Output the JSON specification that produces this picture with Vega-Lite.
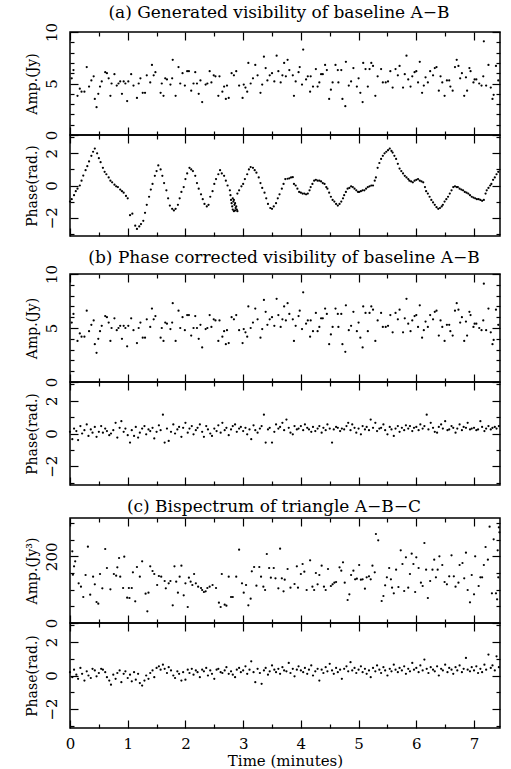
{
"$schema": "https://vega.github.io/schema/vega-lite/v6.json",
"padding": {"left": 24, "top": 3, "right": 6, "bottom": 0},
"background": "white",
"config": {
 "view": {"stroke": "black", "strokeWidth": 1.5},
 "font": "DejaVu Serif",
 "axis": {"domain": false, "grid": false, "tickColor": "black", "tickWidth": 1.2, "labelColor": "black", "titleColor": "black", "labelFont": "DejaVu Serif", "titleFont": "DejaVu Serif", "labelFontSize": 15, "titleFontSize": 14, "titleFontWeight": "normal", "labelOverlap": false, "labelFlush": false, "labelBound": false},
 "title": {"font": "DejaVu Serif", "fontSize": 17, "fontWeight": "normal", "color": "black", "anchor": "middle", "frame": "group"}
},
"datasets": {
 "amp": [
{"t":0.03,"v":5.5},{"t":0.06,"v":6.3},{"t":0.13,"v":3.8},{"t":0.17,"v":4.5},{"t":0.2,"v":4.2},{"t":0.25,"v":4.2},{"t":0.29,"v":6.6},{"t":0.33,"v":4.7},{"t":0.37,"v":5.3},{"t":0.41,"v":5.7},{"t":0.43,"v":3.5},{"t":0.46,"v":2.7},{"t":0.49,"v":4.0},{"t":0.52,"v":4.7},{"t":0.55,"v":5.2},{"t":0.61,"v":6.1},{"t":0.64,"v":6.0},{"t":0.67,"v":5.5},{"t":0.7,"v":3.8},{"t":0.72,"v":5.0},{"t":0.77,"v":5.9},{"t":0.81,"v":4.8},{"t":0.84,"v":5.0},{"t":0.87,"v":5.2},{"t":0.9,"v":4.0},{"t":0.93,"v":5.2},{"t":0.96,"v":5.0},{"t":0.99,"v":3.3},{"t":1.01,"v":5.2},{"t":1.06,"v":5.9},{"t":1.1,"v":4.8},{"t":1.16,"v":3.6},{"t":1.19,"v":5.0},{"t":1.22,"v":5.5},{"t":1.26,"v":4.1},{"t":1.3,"v":4.1},{"t":1.33,"v":5.8},{"t":1.39,"v":5.1},{"t":1.42,"v":6.8},{"t":1.45,"v":5.8},{"t":1.48,"v":6.1},{"t":1.57,"v":4.1},{"t":1.59,"v":5.0},{"t":1.62,"v":3.8},{"t":1.65,"v":5.5},{"t":1.68,"v":5.4},{"t":1.74,"v":4.9},{"t":1.77,"v":5.5},{"t":1.78,"v":7.3},{"t":1.83,"v":3.8},{"t":1.88,"v":6.6},{"t":1.91,"v":5.0},{"t":1.95,"v":6.0},{"t":1.99,"v":4.8},{"t":2.03,"v":6.2},{"t":2.06,"v":6.2},{"t":2.1,"v":4.3},{"t":2.14,"v":5.0},{"t":2.17,"v":6.1},{"t":2.2,"v":5.0},{"t":2.23,"v":4.0},{"t":2.26,"v":5.3},{"t":2.29,"v":3.2},{"t":2.35,"v":4.9},{"t":2.38,"v":5.0},{"t":2.42,"v":6.2},{"t":2.45,"v":5.1},{"t":2.49,"v":5.8},{"t":2.52,"v":5.7},{"t":2.57,"v":3.8},{"t":2.59,"v":5.7},{"t":2.64,"v":4.2},{"t":2.67,"v":4.7},{"t":2.7,"v":3.5},{"t":2.72,"v":4.8},{"t":2.75,"v":3.6},{"t":2.8,"v":6.0},{"t":2.84,"v":5.8},{"t":2.88,"v":6.2},{"t":2.93,"v":4.8},{"t":2.99,"v":3.6},{"t":3.01,"v":4.9},{"t":3.04,"v":4.6},{"t":3.07,"v":4.2},{"t":3.09,"v":7.0},{"t":3.13,"v":5.0},{"t":3.17,"v":5.5},{"t":3.21,"v":6.8},{"t":3.25,"v":5.8},{"t":3.3,"v":4.1},{"t":3.33,"v":4.9},{"t":3.36,"v":7.6},{"t":3.39,"v":6.5},{"t":3.42,"v":5.3},{"t":3.46,"v":5.8},{"t":3.5,"v":6.0},{"t":3.54,"v":5.2},{"t":3.58,"v":7.7},{"t":3.61,"v":6.2},{"t":3.65,"v":5.1},{"t":3.68,"v":5.8},{"t":3.71,"v":7.0},{"t":3.74,"v":5.7},{"t":3.77,"v":7.3},{"t":3.8,"v":6.3},
{"t":3.86,"v":5.8},{"t":3.88,"v":3.8},{"t":3.91,"v":5.2},{"t":3.96,"v":6.1},{"t":3.98,"v":6.6},{"t":4.02,"v":4.9},{"t":4.04,"v":8.3},{"t":4.09,"v":5.4},{"t":4.12,"v":5.7},{"t":4.16,"v":4.2},{"t":4.17,"v":5.7},{"t":4.21,"v":4.7},{"t":4.26,"v":6.4},{"t":4.29,"v":4.7},{"t":4.32,"v":5.1},{"t":4.35,"v":5.9},{"t":4.38,"v":5.9},{"t":4.42,"v":6.8},{"t":4.45,"v":6.3},{"t":4.49,"v":3.5},{"t":4.52,"v":4.4},{"t":4.55,"v":5.1},{"t":4.6,"v":6.8},{"t":4.64,"v":6.3},{"t":4.65,"v":5.1},{"t":4.7,"v":6.3},{"t":4.72,"v":3.5},{"t":4.77,"v":2.8},{"t":4.78,"v":7.1},{"t":4.83,"v":4.8},{"t":4.87,"v":5.2},{"t":4.91,"v":6.5},{"t":4.97,"v":4.7},{"t":5.0,"v":5.5},{"t":5.03,"v":4.1},{"t":5.07,"v":3.2},{"t":5.08,"v":7.0},{"t":5.12,"v":6.4},{"t":5.16,"v":4.7},{"t":5.19,"v":6.4},{"t":5.22,"v":7.0},{"t":5.25,"v":6.7},{"t":5.29,"v":3.8},{"t":5.33,"v":5.7},{"t":5.39,"v":6.4},{"t":5.42,"v":5.1},{"t":5.47,"v":5.1},{"t":5.51,"v":5.2},{"t":5.55,"v":6.2},{"t":5.59,"v":4.6},{"t":5.64,"v":6.4},{"t":5.68,"v":5.8},{"t":5.71,"v":6.7},{"t":5.77,"v":4.6},{"t":5.8,"v":5.9},{"t":5.83,"v":7.7},{"t":5.86,"v":5.4},{"t":5.9,"v":4.7},{"t":5.93,"v":5.7},{"t":5.97,"v":6.1},{"t":6.0,"v":6.2},{"t":6.03,"v":5.1},{"t":6.06,"v":7.1},{"t":6.1,"v":4.1},{"t":6.13,"v":4.8},{"t":6.16,"v":5.6},{"t":6.2,"v":5.1},{"t":6.24,"v":6.2},{"t":6.29,"v":5.8},{"t":6.32,"v":6.5},{"t":6.35,"v":6.6},{"t":6.39,"v":4.3},{"t":6.42,"v":5.7},{"t":6.45,"v":5.1},{"t":6.49,"v":3.8},{"t":6.53,"v":5.3},{"t":6.57,"v":5.3},{"t":6.59,"v":4.7},{"t":6.63,"v":4.3},{"t":6.67,"v":6.6},{"t":6.7,"v":7.3},{"t":6.73,"v":6.7},{"t":6.76,"v":5.5},{"t":6.79,"v":6.0},{"t":6.83,"v":3.8},{"t":6.86,"v":5.6},{"t":6.88,"v":4.3},{"t":6.92,"v":6.5},{"t":6.94,"v":6.2},{"t":6.99,"v":5.1},{"t":7.01,"v":5.4},{"t":7.04,"v":5.4},{"t":7.09,"v":5.0},{"t":7.13,"v":4.8},{"t":7.16,"v":5.7},{"t":7.17,"v":9.1},{"t":7.21,"v":4.8},{"t":7.25,"v":6.8},{"t":7.29,"v":4.6},{"t":7.32,"v":3.5},{"t":7.34,"v":3.9},{"t":7.38,"v":6.7},{"t":7.42,"v":5.3}
 ],
 "phaseA": [
{"t":0.0,"v":-1.0},{"t":0.03,"v":-0.85},{"t":0.07,"v":-0.6},{"t":0.1,"v":-0.35},{"t":0.13,"v":-0.2},{"t":0.17,"v":0.0},{"t":0.2,"v":0.3},{"t":0.23,"v":0.62},{"t":0.27,"v":0.95},{"t":0.3,"v":1.2},{"t":0.33,"v":1.5},{"t":0.37,"v":1.85},{"t":0.4,"v":2.1},{"t":0.43,"v":2.3},{"t":0.47,"v":2.0},{"t":0.5,"v":1.7},{"t":0.53,"v":1.45},{"t":0.57,"v":1.1},{"t":0.6,"v":0.85},{"t":0.63,"v":0.7},{"t":0.67,"v":0.5},{"t":0.7,"v":0.3},{"t":0.73,"v":0.2},{"t":0.77,"v":0.05},{"t":0.8,"v":-0.05},{"t":0.83,"v":-0.1},{"t":0.87,"v":-0.25},{"t":0.9,"v":-0.35},{"t":0.93,"v":-0.45},{"t":0.97,"v":-0.65},{"t":1.0,"v":-0.8},{"t":1.04,"v":-1.85},{"t":1.08,"v":-1.75},{"t":1.13,"v":-2.5},{"t":1.16,"v":-2.7},{"t":1.2,"v":-2.55},{"t":1.23,"v":-2.4},{"t":1.27,"v":-2.2},{"t":1.3,"v":-1.7},{"t":1.33,"v":-1.2},{"t":1.37,"v":-0.7},{"t":1.4,"v":-0.25},{"t":1.43,"v":0.1},{"t":1.47,"v":0.6},{"t":1.5,"v":0.9},{"t":1.53,"v":1.25},{"t":1.57,"v":1.0},{"t":1.6,"v":0.6},{"t":1.63,"v":0.15},{"t":1.67,"v":-0.3},{"t":1.7,"v":-0.8},{"t":1.73,"v":-1.25},{"t":1.77,"v":-1.45},{"t":1.8,"v":-1.55},{"t":1.83,"v":-1.45},{"t":1.87,"v":-1.2},{"t":1.9,"v":-0.8},{"t":1.93,"v":-0.4},{"t":1.97,"v":-0.1},{"t":2.0,"v":0.4},{"t":2.03,"v":0.75},{"t":2.07,"v":1.1},{"t":2.1,"v":1.0},{"t":2.13,"v":0.9},{"t":2.17,"v":0.6},{"t":2.2,"v":0.15},{"t":2.23,"v":-0.2},{"t":2.27,"v":-0.55},{"t":2.3,"v":-0.85},{"t":2.33,"v":-1.15},{"t":2.37,"v":-1.3},{"t":2.4,"v":-1.2},{"t":2.43,"v":-0.7},{"t":2.47,"v":-0.35},{"t":2.5,"v":0.1},{"t":2.53,"v":0.4},{"t":2.57,"v":0.7},{"t":2.6,"v":0.95},{"t":2.63,"v":0.75},{"t":2.67,"v":0.6},{"t":2.7,"v":0.3},{"t":2.73,"v":0.0},{"t":2.77,"v":-0.3},
{"t":2.78,"v":-0.6},{"t":2.79,"v":-0.9},{"t":2.8,"v":-1.1},{"t":2.81,"v":-1.3},{"t":2.82,"v":-1.5},{"t":2.84,"v":-1.6},{"t":2.86,"v":-1.55},{"t":2.87,"v":-1.4},{"t":2.85,"v":-1.2},{"t":2.83,"v":-1.0},{"t":2.82,"v":-0.8},{"t":2.84,"v":-0.9},{"t":2.86,"v":-1.1},{"t":2.88,"v":-1.3},{"t":2.89,"v":-1.5},{"t":2.9,"v":-1.6},
{"t":2.9,"v":-0.5},{"t":2.93,"v":-0.3},{"t":2.97,"v":-0.05},{"t":3.0,"v":0.1},{"t":3.03,"v":0.4},{"t":3.07,"v":0.7},{"t":3.1,"v":1.0},{"t":3.13,"v":1.15},{"t":3.17,"v":1.1},{"t":3.2,"v":0.95},{"t":3.23,"v":0.8},{"t":3.27,"v":0.5},{"t":3.3,"v":0.15},{"t":3.33,"v":-0.15},{"t":3.37,"v":-0.45},{"t":3.4,"v":-0.8},{"t":3.43,"v":-1.15},{"t":3.47,"v":-1.4},{"t":3.5,"v":-1.45},{"t":3.53,"v":-1.3},{"t":3.57,"v":-1.1},{"t":3.6,"v":-0.8},{"t":3.63,"v":-0.55},{"t":3.67,"v":-0.2},{"t":3.7,"v":0.1},{"t":3.73,"v":0.4},
{"t":3.77,"v":0.42},{"t":3.8,"v":0.45},{"t":3.83,"v":0.5},{"t":3.86,"v":0.52},{"t":3.88,"v":0.1},{"t":3.91,"v":0.0},{"t":3.94,"v":-0.2},{"t":3.97,"v":-0.4},{"t":4.0,"v":-0.45},{"t":4.03,"v":-0.5},{"t":4.06,"v":-0.5},{"t":4.09,"v":-0.55},{"t":4.12,"v":-0.5},{"t":4.15,"v":-0.3},{"t":4.17,"v":-0.1},{"t":4.2,"v":0.1},{"t":4.23,"v":0.3},{"t":4.26,"v":0.35},{"t":4.29,"v":0.3},{"t":4.32,"v":0.3},{"t":4.35,"v":0.25},{"t":4.38,"v":0.15},{"t":4.41,"v":0.1},{"t":4.44,"v":-0.1},{"t":4.46,"v":-0.2},{"t":4.49,"v":-0.45},{"t":4.52,"v":-0.7},{"t":4.55,"v":-0.9},{"t":4.58,"v":-1.0},{"t":4.61,"v":-1.15},{"t":4.64,"v":-1.25},{"t":4.67,"v":-1.15},{"t":4.7,"v":-1.0},{"t":4.73,"v":-0.8},{"t":4.75,"v":-0.6},{"t":4.78,"v":-0.4},{"t":4.81,"v":-0.2},{"t":4.84,"v":-0.15},{"t":4.87,"v":-0.05},{"t":4.9,"v":-0.1},{"t":4.93,"v":-0.2},{"t":4.96,"v":-0.3},{"t":4.99,"v":-0.4},{"t":5.01,"v":-0.4},{"t":5.04,"v":-0.35},{"t":5.07,"v":-0.3},{"t":5.1,"v":-0.3},{"t":5.13,"v":-0.2},{"t":5.16,"v":-0.1},{"t":5.19,"v":-0.05},{"t":5.22,"v":0.0},{"t":5.25,"v":0.0},{"t":5.28,"v":0.3},{"t":5.3,"v":0.5},{"t":5.33,"v":1.1},{"t":5.36,"v":1.4},{"t":5.39,"v":1.65},{"t":5.42,"v":1.85},{"t":5.45,"v":2.0},{"t":5.48,"v":2.1},{"t":5.51,"v":2.2},{"t":5.54,"v":2.3},{"t":5.57,"v":2.15},{"t":5.59,"v":2.05},{"t":5.62,"v":1.85},{"t":5.65,"v":1.65},{"t":5.68,"v":1.35},{"t":5.71,"v":1.05},{"t":5.74,"v":0.9},{"t":5.77,"v":0.75},{"t":5.8,"v":0.6},{"t":5.83,"v":0.5},{"t":5.86,"v":0.4},{"t":5.88,"v":0.3},{"t":5.91,"v":0.25},{"t":5.94,"v":0.2},{"t":5.97,"v":0.3},{"t":6.0,"v":0.35},{"t":6.03,"v":0.4},{"t":6.06,"v":0.3},{"t":6.09,"v":0.25},{"t":6.12,"v":0.2},{"t":6.15,"v":-0.1},{"t":6.17,"v":-0.35},{"t":6.2,"v":-0.5},{"t":6.23,"v":-0.7},{"t":6.26,"v":-0.9},{"t":6.29,"v":-1.05},{"t":6.32,"v":-1.2},{"t":6.35,"v":-1.35},{"t":6.38,"v":-1.45},{"t":6.41,"v":-1.4},{"t":6.44,"v":-1.3},{"t":6.46,"v":-1.2},{"t":6.49,"v":-1.0},{"t":6.52,"v":-0.85},{"t":6.55,"v":-0.7},{"t":6.58,"v":-0.5},{"t":6.61,"v":-0.3},{"t":6.64,"v":-0.1},{"t":6.67,"v":-0.05},{"t":6.7,"v":-0.1},{"t":6.72,"v":-0.1},{"t":6.75,"v":-0.2},{"t":6.78,"v":-0.25},{"t":6.81,"v":-0.3},{"t":6.84,"v":-0.4},{"t":6.87,"v":-0.45},{"t":6.9,"v":-0.5},{"t":6.93,"v":-0.6},{"t":6.96,"v":-0.7},{"t":6.99,"v":-0.75},{"t":7.02,"v":-0.8},{"t":7.05,"v":-0.85},{"t":7.08,"v":-0.85},{"t":7.11,"v":-0.9},{"t":7.14,"v":-0.95},{"t":7.17,"v":-0.9},{"t":7.2,"v":-0.5},{"t":7.22,"v":-0.3},{"t":7.25,"v":-0.15},{"t":7.28,"v":0.0},{"t":7.3,"v":0.1},{"t":7.33,"v":0.35},{"t":7.36,"v":0.5},{"t":7.39,"v":0.7},{"t":7.42,"v":0.85}
 ],
 "phaseB": [
{"t":0,"v":0.1},{"t":0.04,"v":-0.35},{"t":0.07,"v":0.3},{"t":0.11,"v":0.15},{"t":0.14,"v":-0.4},{"t":0.18,"v":0.45},{"t":0.21,"v":0.0},{"t":0.25,"v":0.2},{"t":0.29,"v":0.55},{"t":0.32,"v":-0.15},{"t":0.36,"v":0.25},{"t":0.39,"v":0.05},{"t":0.43,"v":0.4},{"t":0.46,"v":-0.2},{"t":0.5,"v":0.1},{"t":0.54,"v":0.45},{"t":0.57,"v":0.05},{"t":0.61,"v":0.3},{"t":0.64,"v":0.15},{"t":0.68,"v":-0.1},{"t":0.71,"v":0.0},{"t":0.75,"v":0.2},{"t":0.79,"v":0.65},{"t":0.82,"v":-0.25},{"t":0.86,"v":0.35},{"t":0.89,"v":0.75},{"t":0.93,"v":0.1},{"t":0.96,"v":0.3},
{"t":1.0,"v":-0.1},{"t":1.04,"v":-0.55},{"t":1.07,"v":0.2},{"t":1.11,"v":-0.15},{"t":1.14,"v":0.4},{"t":1.18,"v":-0.25},{"t":1.21,"v":0.05},{"t":1.25,"v":0.3},{"t":1.29,"v":0.45},{"t":1.32,"v":-0.05},{"t":1.36,"v":0.25},{"t":1.39,"v":0.15},{"t":1.43,"v":0.35},{"t":1.46,"v":-0.3},{"t":1.5,"v":0.1},{"t":1.54,"v":0.5},{"t":1.57,"v":0.2},{"t":1.61,"v":1.15},{"t":1.64,"v":-0.55},{"t":1.68,"v":0.3},{"t":1.71,"v":-0.45},{"t":1.75,"v":0.1},{"t":1.79,"v":0.55},{"t":1.82,"v":0.0},{"t":1.86,"v":0.25},{"t":1.89,"v":0.4},{"t":1.93,"v":-0.2},{"t":1.96,"v":0.35},
{"t":2.0,"v":0.65},{"t":2.04,"v":0.05},{"t":2.07,"v":0.3},{"t":2.11,"v":0.45},{"t":2.14,"v":-0.05},{"t":2.18,"v":0.2},{"t":2.21,"v":0.35},{"t":2.25,"v":0.55},{"t":2.29,"v":0.1},{"t":2.32,"v":-0.2},{"t":2.36,"v":0.45},{"t":2.39,"v":0.25},{"t":2.43,"v":0.0},{"t":2.46,"v":-0.15},{"t":2.5,"v":0.3},{"t":2.54,"v":0.15},{"t":2.57,"v":0.5},{"t":2.61,"v":0.05},{"t":2.64,"v":0.65},{"t":2.68,"v":0.2},{"t":2.71,"v":0.35},{"t":2.75,"v":-0.1},{"t":2.79,"v":0.25},{"t":2.82,"v":0.45},{"t":2.86,"v":0.55},{"t":2.89,"v":0.1},{"t":2.93,"v":0.3},{"t":2.96,"v":0.4},
{"t":3.0,"v":0.15},{"t":3.04,"v":0.35},{"t":3.07,"v":-0.05},{"t":3.11,"v":0.25},{"t":3.14,"v":-0.35},{"t":3.18,"v":0.5},{"t":3.21,"v":0.2},{"t":3.25,"v":0.05},{"t":3.29,"v":0.3},{"t":3.32,"v":0.45},{"t":3.36,"v":1.15},{"t":3.39,"v":-0.55},{"t":3.43,"v":0.25},{"t":3.46,"v":0.35},{"t":3.5,"v":-0.55},{"t":3.54,"v":0.1},{"t":3.57,"v":0.55},{"t":3.61,"v":0.3},{"t":3.64,"v":0.4},{"t":3.68,"v":0.65},{"t":3.71,"v":0.2},{"t":3.75,"v":0.85},{"t":3.79,"v":0.35},{"t":3.82,"v":0.05},{"t":3.86,"v":-0.05},{"t":3.89,"v":0.45},{"t":3.93,"v":0.25},{"t":3.96,"v":0.3},
{"t":4.0,"v":0.45},{"t":4.04,"v":0.2},{"t":4.07,"v":0.55},{"t":4.11,"v":0.35},{"t":4.14,"v":0.25},{"t":4.18,"v":0.1},{"t":4.21,"v":0.4},{"t":4.25,"v":0.15},{"t":4.29,"v":0.3},{"t":4.32,"v":0.45},{"t":4.36,"v":0.05},{"t":4.39,"v":0.35},{"t":4.43,"v":0.2},{"t":4.46,"v":0.55},{"t":4.5,"v":0.3},{"t":4.54,"v":-0.55},{"t":4.57,"v":0.25},{"t":4.61,"v":0.4},{"t":4.64,"v":0.35},{"t":4.68,"v":0.15},{"t":4.71,"v":0.3},{"t":4.75,"v":0.25},{"t":4.79,"v":0.45},{"t":4.82,"v":0.65},{"t":4.86,"v":0.2},{"t":4.89,"v":0.55},{"t":4.93,"v":0.35},{"t":4.96,"v":0.05},
{"t":5.0,"v":0.3},{"t":5.04,"v":-0.05},{"t":5.07,"v":0.45},{"t":5.11,"v":0.25},{"t":5.14,"v":0.4},{"t":5.18,"v":0.2},{"t":5.21,"v":0.85},{"t":5.25,"v":0.35},{"t":5.29,"v":0.65},{"t":5.32,"v":0.15},{"t":5.36,"v":0.3},{"t":5.39,"v":0.35},{"t":5.43,"v":0.55},{"t":5.46,"v":0.2},{"t":5.5,"v":-0.05},{"t":5.54,"v":0.4},{"t":5.57,"v":0.25},{"t":5.61,"v":-0.15},{"t":5.64,"v":0.3},{"t":5.68,"v":0.45},{"t":5.71,"v":0.1},{"t":5.75,"v":0.35},{"t":5.79,"v":0.2},{"t":5.82,"v":0.5},{"t":5.86,"v":0.3},{"t":5.89,"v":0.45},{"t":5.93,"v":0.15},{"t":5.96,"v":0.35},
{"t":6.0,"v":0.4},{"t":6.04,"v":0.2},{"t":6.07,"v":0.55},{"t":6.11,"v":0.3},{"t":6.14,"v":0.45},{"t":6.18,"v":1.15},{"t":6.21,"v":0.25},{"t":6.25,"v":0.65},{"t":6.29,"v":0.35},{"t":6.32,"v":0.1},{"t":6.36,"v":0.05},{"t":6.39,"v":0.4},{"t":6.43,"v":0.55},{"t":6.46,"v":0.3},{"t":6.5,"v":0.75},{"t":6.54,"v":0.2},{"t":6.57,"v":0.25},{"t":6.61,"v":0.45},{"t":6.64,"v":0.35},{"t":6.68,"v":0.05},{"t":6.71,"v":0.3},{"t":6.75,"v":0.55},{"t":6.79,"v":0.2},{"t":6.82,"v":0.4},{"t":6.86,"v":0.35},{"t":6.89,"v":0.65},{"t":6.93,"v":0.25},{"t":6.96,"v":0.3},
{"t":7.0,"v":0.35},{"t":7.04,"v":0.2},{"t":7.07,"v":0.25},{"t":7.11,"v":0.75},{"t":7.14,"v":0.4},{"t":7.18,"v":0.15},{"t":7.21,"v":0.3},{"t":7.25,"v":0.45},{"t":7.29,"v":0.25},{"t":7.32,"v":0.35},{"t":7.36,"v":0.4},{"t":7.39,"v":0.3},{"t":7.43,"v":0.45}
 ],
 "bisAmp": [
{"t":0.04,"v":215},{"t":0.09,"v":185},{"t":0.07,"v":170},{"t":0.05,"v":145},{"t":0.15,"v":119},{"t":0.19,"v":109},{"t":0.23,"v":78},{"t":0.27,"v":144},{"t":0.31,"v":229},{"t":0.35,"v":85},{"t":0.4,"v":139},{"t":0.43,"v":116},{"t":0.46,"v":63},{"t":0.49,"v":58},{"t":0.52,"v":147},{"t":0.56,"v":104},{"t":0.61,"v":222},{"t":0.64,"v":165},{"t":0.7,"v":101},{"t":0.76,"v":147},{"t":0.8,"v":142},{"t":0.82,"v":167},{"t":0.85,"v":195},{"t":0.87,"v":139},{"t":0.92,"v":105},{"t":0.94,"v":199},{"t":0.99,"v":76},{"t":1.02,"v":105},{"t":1.03,"v":75},{"t":1.07,"v":105},{"t":1.09,"v":152},{"t":1.13,"v":65},{"t":1.16,"v":168},{"t":1.21,"v":139},{"t":1.25,"v":185},{"t":1.31,"v":88},{"t":1.34,"v":35},{"t":1.36,"v":91},{"t":1.39,"v":170},{"t":1.43,"v":156},{"t":1.46,"v":147},{"t":1.51,"v":114},{"t":1.54,"v":141},{"t":1.58,"v":139},{"t":1.64,"v":126},{"t":1.66,"v":104},{"t":1.71,"v":119},{"t":1.74,"v":126},{"t":1.78,"v":53},{"t":1.81,"v":170},{"t":1.84,"v":124},{"t":1.87,"v":91},{"t":1.9,"v":139},{"t":1.93,"v":172},{"t":1.97,"v":83},{"t":2.0,"v":119},{"t":2.04,"v":48},{"t":2.06,"v":136},{"t":2.09,"v":124},{"t":2.12,"v":114},{"t":2.15,"v":147},{"t":2.18,"v":119},{"t":2.22,"v":109},{"t":2.27,"v":105},{"t":2.29,"v":99},{"t":2.32,"v":93},{"t":2.35,"v":95},{"t":2.38,"v":105},{"t":2.42,"v":109},{"t":2.47,"v":114},{"t":2.53,"v":105},{"t":2.58,"v":61},{"t":2.61,"v":48},{"t":2.63,"v":147},{"t":2.68,"v":55},{"t":2.71,"v":52},{"t":2.75,"v":139},{"t":2.79,"v":78},{"t":2.82,"v":78},{"t":2.88,"v":139},{"t":2.93,"v":220},{"t":2.98,"v":119},{"t":3.01,"v":91},{"t":3.05,"v":114},{"t":3.09,"v":53},{"t":3.13,"v":73},{"t":3.15,"v":155},{"t":3.19,"v":168},{"t":3.23,"v":112},{"t":3.28,"v":168},{"t":3.31,"v":139},{"t":3.35,"v":109},{"t":3.38,"v":99},{"t":3.41,"v":207},{"t":3.45,"v":165},{"t":3.48,"v":136},{"t":3.53,"v":165},{"t":3.56,"v":134},{"t":3.61,"v":104},{"t":3.64,"v":223},{"t":3.67,"v":134},{"t":3.7,"v":95},
{"t":3.72,"v":130},{"t":3.77,"v":162},{"t":3.82,"v":106},{"t":3.89,"v":117},{"t":3.93,"v":170},{"t":3.95,"v":106},{"t":4.0,"v":147},{"t":4.03,"v":177},{"t":4.06,"v":154},{"t":4.1,"v":99},{"t":4.16,"v":188},{"t":4.2,"v":109},{"t":4.23,"v":99},{"t":4.26,"v":150},{"t":4.29,"v":116},{"t":4.32,"v":144},{"t":4.36,"v":172},{"t":4.4,"v":109},{"t":4.43,"v":99},{"t":4.47,"v":162},{"t":4.52,"v":111},{"t":4.55,"v":116},{"t":4.58,"v":121},{"t":4.61,"v":123},{"t":4.67,"v":167},{"t":4.7,"v":157},{"t":4.73,"v":182},{"t":4.76,"v":121},{"t":4.81,"v":69},{"t":4.84,"v":86},{"t":4.87,"v":144},{"t":4.91,"v":157},{"t":4.94,"v":131},{"t":4.97,"v":133},{"t":5.01,"v":174},{"t":5.04,"v":130},{"t":5.07,"v":131},{"t":5.11,"v":103},{"t":5.14,"v":137},{"t":5.18,"v":140},{"t":5.21,"v":131},{"t":5.24,"v":172},{"t":5.28,"v":152},{"t":5.3,"v":267},{"t":5.34,"v":248},{"t":5.4,"v":66},{"t":5.43,"v":81},{"t":5.46,"v":113},{"t":5.49,"v":137},{"t":5.53,"v":165},{"t":5.56,"v":131},{"t":5.58,"v":106},{"t":5.61,"v":89},{"t":5.65,"v":160},{"t":5.69,"v":108},{"t":5.73,"v":218},{"t":5.76,"v":177},{"t":5.79,"v":96},{"t":5.82,"v":197},{"t":5.86,"v":106},{"t":5.89,"v":147},{"t":5.92,"v":208},{"t":5.95,"v":177},{"t":5.98,"v":93},{"t":6.0,"v":197},{"t":6.04,"v":165},{"t":6.08,"v":121},{"t":6.11,"v":111},{"t":6.14,"v":240},{"t":6.17,"v":160},{"t":6.2,"v":75},{"t":6.24,"v":126},{"t":6.28,"v":160},{"t":6.31,"v":190},{"t":6.34,"v":137},{"t":6.37,"v":160},{"t":6.4,"v":200},{"t":6.45,"v":174},{"t":6.49,"v":123},{"t":6.53,"v":116},{"t":6.57,"v":140},{"t":6.61,"v":203},{"t":6.65,"v":140},{"t":6.68,"v":109},{"t":6.73,"v":121},{"t":6.75,"v":174},{"t":6.8,"v":180},{"t":6.83,"v":134},{"t":6.86,"v":211},{"t":6.89,"v":99},{"t":6.93,"v":62},{"t":6.96,"v":144},{"t":7.0,"v":86},{"t":7.02,"v":200},{"t":7.08,"v":111},{"t":7.11,"v":137},{"t":7.14,"v":137},{"t":7.17,"v":174},{"t":7.2,"v":228},{"t":7.24,"v":190},{"t":7.27,"v":289},{"t":7.31,"v":89},{"t":7.34,"v":251},{"t":7.38,"v":89},{"t":7.4,"v":71},{"t":7.41,"v":218},{"t":7.42,"v":137},{"t":7.43,"v":287},{"t":7.44,"v":272}
 ],
 "bisPhase": [
{"t":0,"v":0.2},{"t":0.04,"v":-0.1},{"t":0.07,"v":0.35},{"t":0.11,"v":0.05},{"t":0.14,"v":-0.2},{"t":0.18,"v":0.45},{"t":0.21,"v":0.1},{"t":0.25,"v":-0.3},{"t":0.29,"v":0.25},{"t":0.32,"v":0.0},{"t":0.36,"v":-0.15},{"t":0.39,"v":0.4},{"t":0.43,"v":0.3},{"t":0.46,"v":-0.05},{"t":0.5,"v":0.15},{"t":0.54,"v":0.4},{"t":0.57,"v":0.35},{"t":0.61,"v":0.2},{"t":0.64,"v":-0.1},{"t":0.68,"v":-0.3},{"t":0.71,"v":-0.55},{"t":0.75,"v":0.05},{"t":0.79,"v":-0.2},{"t":0.82,"v":0.15},{"t":0.86,"v":0.3},{"t":0.89,"v":-0.4},{"t":0.93,"v":0.1},{"t":0.96,"v":0.25},
{"t":1.0,"v":-0.15},{"t":1.04,"v":0.05},{"t":1.07,"v":-0.35},{"t":1.11,"v":0.2},{"t":1.14,"v":-0.25},{"t":1.18,"v":0.1},{"t":1.21,"v":-0.45},{"t":1.25,"v":-0.6},{"t":1.29,"v":-0.3},{"t":1.32,"v":0.0},{"t":1.36,"v":-0.2},{"t":1.39,"v":0.15},{"t":1.43,"v":0.3},{"t":1.46,"v":-0.1},{"t":1.5,"v":0.45},{"t":1.54,"v":0.55},{"t":1.57,"v":0.35},{"t":1.61,"v":0.65},{"t":1.64,"v":0.4},{"t":1.68,"v":0.15},{"t":1.71,"v":0.5},{"t":1.75,"v":0.3},{"t":1.79,"v":0.0},{"t":1.82,"v":-0.15},{"t":1.86,"v":0.25},{"t":1.89,"v":0.1},{"t":1.93,"v":-0.3},{"t":1.96,"v":0.2},
{"t":2.0,"v":-0.25},{"t":2.04,"v":0.35},{"t":2.07,"v":0.15},{"t":2.11,"v":0.4},{"t":2.14,"v":0.05},{"t":2.18,"v":0.3},{"t":2.21,"v":0.2},{"t":2.25,"v":-0.1},{"t":2.29,"v":0.35},{"t":2.32,"v":0.25},{"t":2.36,"v":0.45},{"t":2.39,"v":0.0},{"t":2.43,"v":0.3},{"t":2.46,"v":0.1},{"t":2.5,"v":-0.2},{"t":2.54,"v":0.35},{"t":2.57,"v":0.4},{"t":2.61,"v":0.2},{"t":2.64,"v":0.15},{"t":2.68,"v":0.3},{"t":2.71,"v":0.5},{"t":2.75,"v":0.1},{"t":2.79,"v":0.25},{"t":2.82,"v":0.05},{"t":2.86,"v":-0.1},{"t":2.89,"v":0.35},{"t":2.93,"v":0.45},{"t":2.96,"v":0.2},
{"t":3.0,"v":0.3},{"t":3.04,"v":0.55},{"t":3.07,"v":0.1},{"t":3.11,"v":0.35},{"t":3.14,"v":0.85},{"t":3.18,"v":0.2},{"t":3.21,"v":-0.4},{"t":3.25,"v":0.4},{"t":3.29,"v":0.15},{"t":3.32,"v":-0.5},{"t":3.36,"v":0.3},{"t":3.39,"v":0.45},{"t":3.43,"v":0.05},{"t":3.46,"v":0.25},{"t":3.5,"v":0.6},{"t":3.54,"v":0.35},{"t":3.57,"v":0.2},{"t":3.61,"v":0.4},{"t":3.64,"v":0.1},{"t":3.68,"v":0.5},{"t":3.71,"v":0.3},{"t":3.75,"v":0.25},{"t":3.79,"v":0.75},{"t":3.82,"v":0.15},{"t":3.86,"v":0.4},{"t":3.89,"v":-0.05},{"t":3.93,"v":0.35},{"t":3.96,"v":0.55},
{"t":4.0,"v":0.3},{"t":4.04,"v":0.2},{"t":4.07,"v":0.45},{"t":4.11,"v":0.1},{"t":4.14,"v":0.35},{"t":4.18,"v":0.6},{"t":4.21,"v":0.0},{"t":4.25,"v":0.25},{"t":4.29,"v":0.4},{"t":4.32,"v":-0.3},{"t":4.36,"v":0.35},{"t":4.39,"v":0.15},{"t":4.43,"v":0.5},{"t":4.46,"v":0.25},{"t":4.5,"v":0.7},{"t":4.54,"v":0.3},{"t":4.57,"v":0.1},{"t":4.61,"v":0.45},{"t":4.64,"v":0.2},{"t":4.68,"v":0.35},{"t":4.71,"v":-0.2},{"t":4.75,"v":0.4},{"t":4.79,"v":0.55},{"t":4.82,"v":0.25},{"t":4.86,"v":0.8},{"t":4.89,"v":0.3},{"t":4.93,"v":0.45},{"t":4.96,"v":0.15},
{"t":5.0,"v":0.35},{"t":5.04,"v":0.55},{"t":5.07,"v":0.2},{"t":5.11,"v":0.4},{"t":5.14,"v":0.1},{"t":5.18,"v":0.3},{"t":5.21,"v":-0.1},{"t":5.25,"v":0.45},{"t":5.29,"v":0.25},{"t":5.32,"v":0.6},{"t":5.36,"v":0.35},{"t":5.39,"v":0.15},{"t":5.43,"v":0.5},{"t":5.46,"v":0.3},{"t":5.5,"v":0.0},{"t":5.54,"v":0.4},{"t":5.57,"v":0.25},{"t":5.61,"v":0.65},{"t":5.64,"v":0.35},{"t":5.68,"v":0.2},{"t":5.71,"v":0.45},{"t":5.75,"v":0.3},{"t":5.79,"v":0.55},{"t":5.82,"v":0.1},{"t":5.86,"v":0.4},{"t":5.89,"v":0.25},{"t":5.93,"v":0.75},{"t":5.96,"v":0.35},
{"t":6.0,"v":0.45},{"t":6.04,"v":0.2},{"t":6.07,"v":0.6},{"t":6.11,"v":0.3},{"t":6.14,"v":0.95},{"t":6.18,"v":0.4},{"t":6.21,"v":0.15},{"t":6.25,"v":0.5},{"t":6.29,"v":0.35},{"t":6.32,"v":0.25},{"t":6.36,"v":0.55},{"t":6.39,"v":0.0},{"t":6.43,"v":0.4},{"t":6.46,"v":0.3},{"t":6.5,"v":0.65},{"t":6.54,"v":0.2},{"t":6.57,"v":0.45},{"t":6.61,"v":0.35},{"t":6.64,"v":0.1},{"t":6.68,"v":0.5},{"t":6.71,"v":0.3},{"t":6.75,"v":0.6},{"t":6.79,"v":0.2},{"t":6.82,"v":0.4},{"t":6.86,"v":1.05},{"t":6.89,"v":0.35},{"t":6.93,"v":0.25},{"t":6.96,"v":0.5},
{"t":7.0,"v":0.3},{"t":7.04,"v":0.55},{"t":7.07,"v":0.15},{"t":7.11,"v":0.4},{"t":7.14,"v":0.2},{"t":7.18,"v":0.65},{"t":7.21,"v":0.35},{"t":7.25,"v":1.25},{"t":7.29,"v":0.45},{"t":7.32,"v":0.6},{"t":7.36,"v":0.3},{"t":7.39,"v":1.15},{"t":7.43,"v":0.5}
 ]
},
"vconcat": [
 {"vconcat": [
  {"width": 430, "height": 103,
   "title": {"text": "(a) Generated visibility of baseline A−B", "offset": 0, "dx": -6},
   "layer": [
    {"data": {"name": "amp"}, "mark": {"type": "circle", "size": 5, "color": "black", "opacity": 1},
     "encoding": {
      "x": {"field": "t", "type": "quantitative", "scale": {"domain": [0, 7.45], "nice": false}, "axis": {"orient": "bottom", "values": [0,1,2,3,4,5,6,7], "tickSize": -8, "labels": false, "title": null}},
      "y": {"field": "v", "type": "quantitative", "scale": {"domain": [0, 10], "nice": false}, "axis": {"orient": "left", "values": [0,5,10], "tickSize": -8, "labelAngle": -90, "labelAlign": "center", "labelBaseline": "bottom", "labelPadding": 19, "title": "Amp.(Jy)", "titlePadding": 5}}}},
    {"data": {"values": [{"t": 0, "v": 0}]}, "mark": {"type": "point", "opacity": 0},
     "encoding": {
      "x": {"field": "t", "type": "quantitative", "scale": {"domain": [0, 7.45], "nice": false}, "axis": {"orient": "top", "values": [0,1,2,3,4,5,6,7], "tickSize": -8, "labels": false, "title": null}},
      "y": {"field": "v", "type": "quantitative", "scale": {"domain": [0, 10], "nice": false}, "axis": {"orient": "right", "values": [0,5,10], "tickSize": -8, "labels": false, "title": null}}}},
    {"data": {"values": [{"t": 0, "v": 0}]}, "mark": {"type": "point", "opacity": 0},
     "encoding": {
      "x": {"field": "t", "type": "quantitative", "scale": {"domain": [0, 7.45], "nice": false}, "axis": {"orient": "bottom", "values": [0.5,1.5,2.5,3.5,4.5,5.5,6.5], "tickSize": -4, "labels": false, "title": null}},
      "y": {"field": "v", "type": "quantitative", "scale": {"domain": [0, 10], "nice": false}, "axis": {"orient": "left", "values": [1,2,3,4,6,7,8,9], "tickSize": -4, "labels": false, "title": null}}}},
    {"data": {"values": [{"t": 0, "v": 0}]}, "mark": {"type": "point", "opacity": 0},
     "encoding": {
      "x": {"field": "t", "type": "quantitative", "scale": {"domain": [0, 7.45], "nice": false}, "axis": {"orient": "top", "values": [0.5,1.5,2.5,3.5,4.5,5.5,6.5], "tickSize": -4, "labels": false, "title": null}},
      "y": {"field": "v", "type": "quantitative", "scale": {"domain": [0, 10], "nice": false}, "axis": {"orient": "right", "values": [1,2,3,4,6,7,8,9], "tickSize": -4, "labels": false, "title": null}}}}
   ],
   "resolve": {"axis": {"x": "independent", "y": "independent"}}},
  {"width": 430, "height": 101,
   "layer": [
    {"data": {"name": "phaseA"}, "mark": {"type": "circle", "size": 5, "color": "black", "opacity": 1},
     "encoding": {
      "x": {"field": "t", "type": "quantitative", "scale": {"domain": [0, 7.45], "nice": false}, "axis": {"orient": "bottom", "values": [0,1,2,3,4,5,6,7], "tickSize": -8, "labels": false, "title": null}},
      "y": {"field": "v", "type": "quantitative", "scale": {"domain": [-3.1416, 3.1416], "nice": false, "zero": false}, "axis": {"orient": "left", "values": [-2,0,2], "tickSize": -8, "labelAngle": -90, "labelAlign": "center", "labelBaseline": "bottom", "labelPadding": 19, "title": "Phase(rad.)", "titlePadding": 5}}}},
    {"data": {"values": [{"t": 0, "v": 0}]}, "mark": {"type": "point", "opacity": 0},
     "encoding": {
      "x": {"field": "t", "type": "quantitative", "scale": {"domain": [0, 7.45], "nice": false}, "axis": {"orient": "top", "values": [0,1,2,3,4,5,6,7], "tickSize": -8, "labels": false, "title": null}},
      "y": {"field": "v", "type": "quantitative", "scale": {"domain": [-3.1416, 3.1416], "nice": false, "zero": false}, "axis": {"orient": "right", "values": [-2,0,2], "tickSize": -8, "labels": false, "title": null}}}},
    {"data": {"values": [{"t": 0, "v": 0}]}, "mark": {"type": "point", "opacity": 0},
     "encoding": {
      "x": {"field": "t", "type": "quantitative", "scale": {"domain": [0, 7.45], "nice": false}, "axis": {"orient": "bottom", "values": [0.5,1.5,2.5,3.5,4.5,5.5,6.5], "tickSize": -4, "labels": false, "title": null}},
      "y": {"field": "v", "type": "quantitative", "scale": {"domain": [-3.1416, 3.1416], "nice": false, "zero": false}, "axis": {"orient": "left", "values": [-3,-1,1,3], "tickSize": -4, "labels": false, "title": null}}}},
    {"data": {"values": [{"t": 0, "v": 0}]}, "mark": {"type": "point", "opacity": 0},
     "encoding": {
      "x": {"field": "t", "type": "quantitative", "scale": {"domain": [0, 7.45], "nice": false}, "axis": {"orient": "top", "values": [0.5,1.5,2.5,3.5,4.5,5.5,6.5], "tickSize": -4, "labels": false, "title": null}},
      "y": {"field": "v", "type": "quantitative", "scale": {"domain": [-3.1416, 3.1416], "nice": false, "zero": false}, "axis": {"orient": "right", "values": [-3,-1,1,3], "tickSize": -4, "labels": false, "title": null}}}}
   ],
   "resolve": {"axis": {"x": "independent", "y": "independent"}}}
 ], "spacing": 0, "bounds": "flush"},
 {"vconcat": [
  {"width": 430, "height": 108,
   "title": {"text": "(b) Phase corrected visibility of baseline A−B", "offset": -3, "dx": -1},
   "layer": [
    {"data": {"name": "amp"}, "mark": {"type": "circle", "size": 5, "color": "black", "opacity": 1},
     "encoding": {
      "x": {"field": "t", "type": "quantitative", "scale": {"domain": [0, 7.45], "nice": false}, "axis": {"orient": "bottom", "values": [0,1,2,3,4,5,6,7], "tickSize": -8, "labels": false, "title": null}},
      "y": {"field": "v", "type": "quantitative", "scale": {"domain": [0, 10], "nice": false}, "axis": {"orient": "left", "values": [0,5,10], "tickSize": -8, "labelAngle": -90, "labelAlign": "center", "labelBaseline": "bottom", "labelPadding": 19, "title": "Amp.(Jy)", "titlePadding": 5}}}},
    {"data": {"values": [{"t": 0, "v": 0}]}, "mark": {"type": "point", "opacity": 0},
     "encoding": {
      "x": {"field": "t", "type": "quantitative", "scale": {"domain": [0, 7.45], "nice": false}, "axis": {"orient": "top", "values": [0,1,2,3,4,5,6,7], "tickSize": -8, "labels": false, "title": null}},
      "y": {"field": "v", "type": "quantitative", "scale": {"domain": [0, 10], "nice": false}, "axis": {"orient": "right", "values": [0,5,10], "tickSize": -8, "labels": false, "title": null}}}},
    {"data": {"values": [{"t": 0, "v": 0}]}, "mark": {"type": "point", "opacity": 0},
     "encoding": {
      "x": {"field": "t", "type": "quantitative", "scale": {"domain": [0, 7.45], "nice": false}, "axis": {"orient": "bottom", "values": [0.5,1.5,2.5,3.5,4.5,5.5,6.5], "tickSize": -4, "labels": false, "title": null}},
      "y": {"field": "v", "type": "quantitative", "scale": {"domain": [0, 10], "nice": false}, "axis": {"orient": "left", "values": [1,2,3,4,6,7,8,9], "tickSize": -4, "labels": false, "title": null}}}},
    {"data": {"values": [{"t": 0, "v": 0}]}, "mark": {"type": "point", "opacity": 0},
     "encoding": {
      "x": {"field": "t", "type": "quantitative", "scale": {"domain": [0, 7.45], "nice": false}, "axis": {"orient": "top", "values": [0.5,1.5,2.5,3.5,4.5,5.5,6.5], "tickSize": -4, "labels": false, "title": null}},
      "y": {"field": "v", "type": "quantitative", "scale": {"domain": [0, 10], "nice": false}, "axis": {"orient": "right", "values": [1,2,3,4,6,7,8,9], "tickSize": -4, "labels": false, "title": null}}}}
   ],
   "resolve": {"axis": {"x": "independent", "y": "independent"}}},
  {"width": 430, "height": 103,
   "layer": [
    {"data": {"name": "phaseB"}, "mark": {"type": "circle", "size": 5, "color": "black", "opacity": 1},
     "encoding": {
      "x": {"field": "t", "type": "quantitative", "scale": {"domain": [0, 7.45], "nice": false}, "axis": {"orient": "bottom", "values": [0,1,2,3,4,5,6,7], "tickSize": -8, "labels": false, "title": null}},
      "y": {"field": "v", "type": "quantitative", "scale": {"domain": [-3.1416, 3.1416], "nice": false, "zero": false}, "axis": {"orient": "left", "values": [-2,0,2], "tickSize": -8, "labelAngle": -90, "labelAlign": "center", "labelBaseline": "bottom", "labelPadding": 19, "title": "Phase(rad.)", "titlePadding": 5}}}},
    {"data": {"values": [{"t": 0, "v": 0}]}, "mark": {"type": "point", "opacity": 0},
     "encoding": {
      "x": {"field": "t", "type": "quantitative", "scale": {"domain": [0, 7.45], "nice": false}, "axis": {"orient": "top", "values": [0,1,2,3,4,5,6,7], "tickSize": -8, "labels": false, "title": null}},
      "y": {"field": "v", "type": "quantitative", "scale": {"domain": [-3.1416, 3.1416], "nice": false, "zero": false}, "axis": {"orient": "right", "values": [-2,0,2], "tickSize": -8, "labels": false, "title": null}}}},
    {"data": {"values": [{"t": 0, "v": 0}]}, "mark": {"type": "point", "opacity": 0},
     "encoding": {
      "x": {"field": "t", "type": "quantitative", "scale": {"domain": [0, 7.45], "nice": false}, "axis": {"orient": "bottom", "values": [0.5,1.5,2.5,3.5,4.5,5.5,6.5], "tickSize": -4, "labels": false, "title": null}},
      "y": {"field": "v", "type": "quantitative", "scale": {"domain": [-3.1416, 3.1416], "nice": false, "zero": false}, "axis": {"orient": "left", "values": [-3,-1,1,3], "tickSize": -4, "labels": false, "title": null}}}},
    {"data": {"values": [{"t": 0, "v": 0}]}, "mark": {"type": "point", "opacity": 0},
     "encoding": {
      "x": {"field": "t", "type": "quantitative", "scale": {"domain": [0, 7.45], "nice": false}, "axis": {"orient": "top", "values": [0.5,1.5,2.5,3.5,4.5,5.5,6.5], "tickSize": -4, "labels": false, "title": null}},
      "y": {"field": "v", "type": "quantitative", "scale": {"domain": [-3.1416, 3.1416], "nice": false, "zero": false}, "axis": {"orient": "right", "values": [-3,-1,1,3], "tickSize": -4, "labels": false, "title": null}}}}
   ],
   "resolve": {"axis": {"x": "independent", "y": "independent"}}}
 ], "spacing": 0, "bounds": "flush"},
 {"vconcat": [
  {"width": 430, "height": 105,
   "title": {"text": "(c) Bispectrum of triangle A−B−C", "offset": 1, "dx": -11},
   "layer": [
    {"data": {"name": "bisAmp"}, "mark": {"type": "circle", "size": 5, "color": "black", "opacity": 1},
     "encoding": {
      "x": {"field": "t", "type": "quantitative", "scale": {"domain": [0, 7.45], "nice": false}, "axis": {"orient": "bottom", "values": [0,1,2,3,4,5,6,7], "tickSize": -8, "labels": false, "title": null}},
      "y": {"field": "v", "type": "quantitative", "scale": {"domain": [0, 315], "nice": false}, "axis": {"orient": "left", "values": [0,200], "tickSize": -8, "labelAngle": -90, "labelAlign": "center", "labelBaseline": "bottom", "labelPadding": 19, "title": "Amp.(Jy³)", "titlePadding": 5}}}},
    {"data": {"values": [{"t": 0, "v": 0}]}, "mark": {"type": "point", "opacity": 0},
     "encoding": {
      "x": {"field": "t", "type": "quantitative", "scale": {"domain": [0, 7.45], "nice": false}, "axis": {"orient": "top", "values": [0,1,2,3,4,5,6,7], "tickSize": -8, "labels": false, "title": null}},
      "y": {"field": "v", "type": "quantitative", "scale": {"domain": [0, 315], "nice": false}, "axis": {"orient": "right", "values": [0,200], "tickSize": -8, "labels": false, "title": null}}}},
    {"data": {"values": [{"t": 0, "v": 0}]}, "mark": {"type": "point", "opacity": 0},
     "encoding": {
      "x": {"field": "t", "type": "quantitative", "scale": {"domain": [0, 7.45], "nice": false}, "axis": {"orient": "bottom", "values": [0.5,1.5,2.5,3.5,4.5,5.5,6.5], "tickSize": -4, "labels": false, "title": null}},
      "y": {"field": "v", "type": "quantitative", "scale": {"domain": [0, 315], "nice": false}, "axis": {"orient": "left", "values": [50,100,150,250,300], "tickSize": -4, "labels": false, "title": null}}}},
    {"data": {"values": [{"t": 0, "v": 0}]}, "mark": {"type": "point", "opacity": 0},
     "encoding": {
      "x": {"field": "t", "type": "quantitative", "scale": {"domain": [0, 7.45], "nice": false}, "axis": {"orient": "top", "values": [0.5,1.5,2.5,3.5,4.5,5.5,6.5], "tickSize": -4, "labels": false, "title": null}},
      "y": {"field": "v", "type": "quantitative", "scale": {"domain": [0, 315], "nice": false}, "axis": {"orient": "right", "values": [50,100,150,250,300], "tickSize": -4, "labels": false, "title": null}}}}
   ],
   "resolve": {"axis": {"x": "independent", "y": "independent"}}},
  {"width": 430, "height": 105,
   "layer": [
    {"data": {"name": "bisPhase"}, "mark": {"type": "circle", "size": 5, "color": "black", "opacity": 1},
     "encoding": {
      "x": {"field": "t", "type": "quantitative", "scale": {"domain": [0, 7.45], "nice": false}, "axis": {"orient": "bottom", "values": [0,1,2,3,4,5,6,7], "tickSize": -8, "labels": true, "labelPadding": 16, "labelFontSize": 15, "title": "Time (minutes)", "titleFontSize": 15, "titlePadding": 2}},
      "y": {"field": "v", "type": "quantitative", "scale": {"domain": [-3.1416, 3.1416], "nice": false, "zero": false}, "axis": {"orient": "left", "values": [-2,0,2], "tickSize": -8, "labelAngle": -90, "labelAlign": "center", "labelBaseline": "bottom", "labelPadding": 19, "title": "Phase(rad.)", "titlePadding": 5}}}},
    {"data": {"values": [{"t": 0, "v": 0}]}, "mark": {"type": "point", "opacity": 0},
     "encoding": {
      "x": {"field": "t", "type": "quantitative", "scale": {"domain": [0, 7.45], "nice": false}, "axis": {"orient": "top", "values": [0,1,2,3,4,5,6,7], "tickSize": -8, "labels": false, "title": null}},
      "y": {"field": "v", "type": "quantitative", "scale": {"domain": [-3.1416, 3.1416], "nice": false, "zero": false}, "axis": {"orient": "right", "values": [-2,0,2], "tickSize": -8, "labels": false, "title": null}}}},
    {"data": {"values": [{"t": 0, "v": 0}]}, "mark": {"type": "point", "opacity": 0},
     "encoding": {
      "x": {"field": "t", "type": "quantitative", "scale": {"domain": [0, 7.45], "nice": false}, "axis": {"orient": "bottom", "values": [0.5,1.5,2.5,3.5,4.5,5.5,6.5], "tickSize": -4, "labels": false, "title": null}},
      "y": {"field": "v", "type": "quantitative", "scale": {"domain": [-3.1416, 3.1416], "nice": false, "zero": false}, "axis": {"orient": "left", "values": [-3,-1,1,3], "tickSize": -4, "labels": false, "title": null}}}},
    {"data": {"values": [{"t": 0, "v": 0}]}, "mark": {"type": "point", "opacity": 0},
     "encoding": {
      "x": {"field": "t", "type": "quantitative", "scale": {"domain": [0, 7.45], "nice": false}, "axis": {"orient": "top", "values": [0.5,1.5,2.5,3.5,4.5,5.5,6.5], "tickSize": -4, "labels": false, "title": null}},
      "y": {"field": "v", "type": "quantitative", "scale": {"domain": [-3.1416, 3.1416], "nice": false, "zero": false}, "axis": {"orient": "right", "values": [-3,-1,1,3], "tickSize": -4, "labels": false, "title": null}}}}
   ],
   "resolve": {"axis": {"x": "independent", "y": "independent"}}}
 ], "spacing": 0, "bounds": "flush"}
],
"spacing": 10
}
